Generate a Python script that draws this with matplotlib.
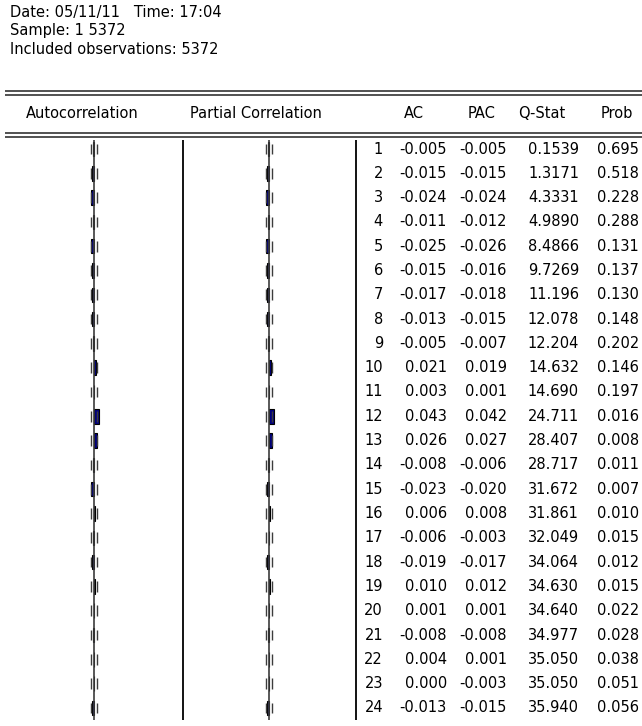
import numpy as np
import matplotlib
matplotlib.use("Agg")
import matplotlib.pyplot as plt

# correlogram header info
date_line = "Date: 05/11/11   Time: 17:04"
sample_line = "Sample: 1 5372"
n_obs = 5372

lags = list(range(1, 25))
ac = [-0.005, -0.015, -0.024, -0.011, -0.025, -0.015, -0.017, -0.013, -0.005, 0.021,
      0.003, 0.043, 0.026, -0.008, -0.023, 0.006, -0.006, -0.019, 0.010, 0.001,
      -0.008, 0.004, 0.000, -0.013]
pac = [-0.005, -0.015, -0.024, -0.012, -0.026, -0.016, -0.018, -0.015, -0.007, 0.019,
       0.001, 0.042, 0.027, -0.006, -0.020, 0.008, -0.003, -0.017, 0.012, 0.001,
       -0.008, 0.001, -0.003, -0.015]
qstat = [0.1539, 1.3171, 4.3331, 4.9890, 8.4866, 9.7269, 11.196, 12.078, 12.204, 14.632,
         14.690, 24.711, 28.407, 28.717, 31.672, 31.861, 32.049, 34.064, 34.630, 34.640,
         34.977, 35.050, 35.050, 35.940]
prob = [0.695, 0.518, 0.228, 0.288, 0.131, 0.137, 0.130, 0.148, 0.202, 0.146,
        0.197, 0.016, 0.008, 0.011, 0.007, 0.010, 0.015, 0.012, 0.015, 0.022,
        0.028, 0.038, 0.051, 0.056]
headers = ["Autocorrelation", "Partial Correlation", "AC", "PAC", "Q-Stat", "Prob"]

W, H = 642, 726
ROW0, ROW_SP = 149, 24.3          # pixel centre of lag 1, row pitch
TOP, BOT = 140, 720               # extent of the vertical rules
FS = 10.5
XSPAN = 0.77                      # correlation units from zero line to panel edge

plt.rcParams["font.family"] = ["DejaVu Sans"]
fig = plt.figure(figsize=(W / 100, H / 100), dpi=100)
bg = fig.add_axes([0, 0, 1, 1])
bg.set_xlim(0, W); bg.set_ylim(H, 0); bg.axis("off")


def px_rect(x0, y0, x1, y1):
    return [x0 / W, 1 - y1 / H, (x1 - x0) / W, (y1 - y0) / H]


def row_y(k):
    return ROW0 + (k - 1) * ROW_SP


# top info lines
for y, s in zip((13, 31, 49), (date_line, sample_line, f"Included observations: {n_obs}")):
    bg.text(10, y, s, ha="left", va="center", fontsize=FS)

# double rules around the header
for y in (91, 95, 133, 137):
    bg.hlines(y, 5, W, color="#222222", lw=1.1)

for x, h in zip((82, 256, 414, 482, 542, 617), headers):
    bg.text(x, 113, h, ha="center", va="center", fontsize=FS)

bg.vlines([183, 356], TOP, BOT, color="black", lw=1.3)

# bar panels: x in correlation units, y in lag units
bound = 2 / np.sqrt(n_obs)
ylim = (1 + (BOT - ROW0) / ROW_SP, 1 + (TOP - ROW0) / ROW_SP)
lag_arr = np.array(lags)
for (x0, x1), vals in (((5, 183), ac), ((183, 355), pac)):
    ax = fig.add_axes(px_rect(x0, TOP, x1, BOT))
    ax.set_xlim(-XSPAN, XSPAN); ax.set_ylim(*ylim); ax.axis("off")
    ax.barh(lags, vals, height=0.6, color="#000080", edgecolor="black", lw=0.8)
    ax.axvline(0, color="#3c3c3c", lw=1.2)
    for b in (-bound, bound):
        ax.vlines(np.full(len(lags), b), lag_arr - 0.22, lag_arr + 0.22,
                  color="#3c3c3c", lw=1.0)

# numeric table, right aligned columns
for k, a, p, q, pr in zip(lags, ac, pac, qstat, prob):
    y = row_y(k)
    qs = f"{q:.4f}" if q < 10 else f"{q:.3f}"
    for x, s in ((383, str(k)), (447, f"{a:.3f}"), (507, f"{p:.3f}"), (579, qs), (639, f"{pr:.3f}")):
        bg.text(x, y, s, ha="right", va="center", fontsize=FS)

fig.savefig("out.png", dpi=100)
